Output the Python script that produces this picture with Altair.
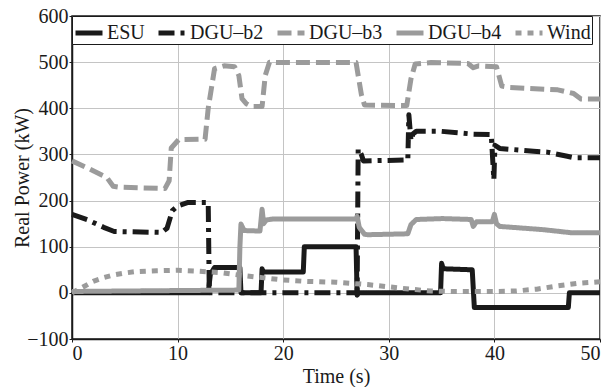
import altair as alt
import pandas as pd

series_names = ["ESU", "DGU\u2013b2", "DGU\u2013b3", "DGU\u2013b4", "Wind"]
colors = ["#1a1a1a", "#1a1a1a", "#9b9b9b", "#9b9b9b", "#9b9b9b"]
dashes = [[1, 0], [16, 6, 4, 6], [14, 6], [1, 0], [6, 6]]

esu_t = [0, 12.9, 13.1, 13.5, 15.9, 16.0, 17.9, 18.0, 18.15, 21.9, 22.0, 26.9, 27.0, 27.15, 34.9, 35.0, 35.15, 35.4, 37.9, 38.1, 47.0, 47.1, 50]
esu_v = [0, 0, 40, 55, 55, 0, 0, 52, 45, 45, 100, 100, -5, 0, 0, 64, 52, 52, 50, -32, -32, 0, 0]

b2_t = [0, 1.5, 3, 4, 8.5, 9.0, 9.5, 10, 11, 12.9, 13.0, 27.0, 27.1, 27.4, 27.6, 31.8, 31.9, 32.1, 32.3, 32.6, 35, 38, 39.7, 39.95, 40.05, 40.5, 43.7, 45, 46.9, 47.5, 50]
b2_v = [170, 158, 142, 133, 131, 140, 178, 188, 196, 196, 0, 0, 312, 300, 286, 288, 386, 330, 345, 350, 350, 344, 343, 245, 320, 313, 307, 305, 296, 293, 293]

b3_t = [0, 1.7, 3.3, 3.9, 4.5, 8.8, 9.2, 9.4, 10.1, 12.6, 12.9, 13.5, 14.4, 15.4, 15.8, 16.1, 16.5, 17.0, 18.0, 18.3, 18.7, 19.7, 26.9, 27.1, 27.4, 27.7, 31.7, 32.1, 32.5, 34, 37.5, 38.0, 38.5, 40.2, 40.7, 41.5, 46, 47.5, 48.2, 50]
b3_v = [286, 268, 250, 231, 229, 226, 243, 314, 332, 333, 400, 486, 492, 490, 471, 421, 410, 404, 404, 471, 500, 499, 499, 471, 430, 407, 406, 464, 496, 499, 497, 488, 492, 490, 448, 445, 440, 432, 420, 420]

b4_t = [0, 5, 10, 15.8, 15.9, 16.0, 16.3, 17.8, 18.0, 18.15, 18.4, 19, 26.9, 27.0, 27.2, 27.7, 28, 31.8, 32.1, 32.6, 35.1, 37.8, 38.0, 38.3, 39.8, 40.0, 40.2, 40.5, 44.6, 47.4, 50]
b4_v = [3, 4, 5, 6, 100, 149, 135, 134, 181, 150, 158, 160, 160, 166, 142, 127, 126, 128, 148, 159, 161, 159, 144, 154, 154, 170, 150, 144, 137, 130, 130]

wind_t = [0, 1, 2, 3, 4, 5, 6, 8, 10, 12, 14, 16, 18, 20, 22, 25, 28, 30, 32, 34, 36, 38, 40, 42, 44, 46, 48, 50]
wind_v = [0, 12, 25, 33, 39, 43, 46, 48, 49, 47, 44, 38, 33, 28, 25, 23, 18, 13, 8, 4, 3, 3, 3, 4, 8, 15, 21, 24]

rows = []
for name, ts, vs in zip(series_names, [esu_t, b2_t, b3_t, b4_t, wind_t], [esu_v, b2_v, b3_v, b4_v, wind_v]):
    for i, (t, v) in enumerate(zip(ts, vs)):
        rows.append({"series": name, "t": t, "p": v, "i": i})
df = pd.DataFrame(rows)

FONT = "Liberation Serif"

legend = alt.Legend(
    title=None, orient="none", legendX=0, legendY=0, direction="horizontal", columns=5,
    labelFont=FONT, labelFontSize=20, labelColor="#1a1a1a",
    symbolType="stroke", symbolSize=729, symbolStrokeWidth=5,
    strokeColor="#1a1a1a", fillColor="white", padding=1, columnPadding=3,
    labelOffset=2, cornerRadius=0,
)

chart = alt.Chart(df).mark_line(strokeCap="butt", strokeJoin="round", strokeWidth=5).encode(
    x=alt.X("t:Q", scale=alt.Scale(domain=[0, 50], nice=False, zero=False),
            axis=alt.Axis(values=[0, 10, 20, 30, 40, 50], title="Time (s)", titleY=43,
                          titleBaseline="alphabetic")),
    y=alt.Y("p:Q", scale=alt.Scale(domain=[-100, 600], nice=False),
            axis=alt.Axis(values=[-100, 0, 100, 200, 300, 400, 500, 600], title="Real Power (kW)",
                          titleX=-50, titleY=161.5, titleBaseline="middle", titleAngle=270)),
    color=alt.Color("series:N", scale=alt.Scale(domain=series_names, range=colors), legend=legend),
    strokeDash=alt.StrokeDash("series:N", scale=alt.Scale(domain=series_names, range=dashes), legend=legend),
    order="i:Q",
    detail="series:N",
).properties(
    width=528, height=323,
    padding={"left": 72, "top": 16, "right": 10, "bottom": 48},
    autosize=alt.AutoSizeParams(type="none"),
).configure_view(
    stroke="#1a1a1a", strokeWidth=1.5
).configure_axis(
    labelFont=FONT, titleFont=FONT, labelFontSize=20, titleFontSize=20,
    labelColor="#1a1a1a", titleColor="#1a1a1a", titleFontWeight="normal",
    grid=True, gridColor="#c4c4c4", gridWidth=1,
    domainColor="#1a1a1a", domainWidth=1.5, tickColor="#1a1a1a", tickSize=3,
    labelPadding=1,
)

chart.save("out.html", embed_options={"renderer": "svg", "actions": False})
